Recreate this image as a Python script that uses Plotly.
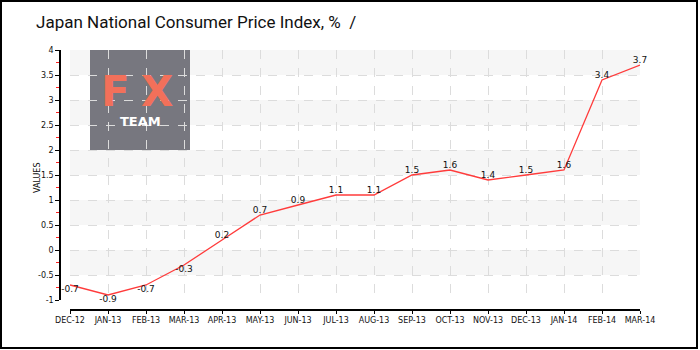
import plotly.graph_objects as go

# Japan national CPI, year-on-year %
months = ["DEC-12", "JAN-13", "FEB-13", "MAR-13", "APR-13", "MAY-13", "JUN-13", "JUL-13",
          "AUG-13", "SEP-13", "OCT-13", "NOV-13", "DEC-13", "JAN-14", "FEB-14", "MAR-14"]
cpi = [-0.7, -0.9, -0.7, -0.3, 0.2, 0.7, 0.9, 1.1, 1.1, 1.5, 1.6, 1.4, 1.5, 1.6, 3.4, 3.7]
y_ticks = [-1, -0.5, 0, 0.5, 1, 1.5, 2, 2.5, 3, 3.5, 4]
y_tick_text = ["-1", "-0.5", "0", "0.5", "1", "1.5", "2", "2.5", "3", "3.5", "4"]

W, H = 700, 350
# plot box in pixels
PX0, PX1, PY0, PY1 = 70, 640, 50, 300
XAX_Y, YAX_X = 310, 60


def fx(px):
    return px / W


def fy(py):
    return 1 - py / H


idx = list(range(len(months)))
positions = ["top center" if v >= 0 else "bottom center" for v in cpi]

fig = go.Figure()
fig.add_trace(go.Scatter(
    x=idx, y=cpi, mode="lines+text",
    line=dict(color="#ff3b3b", width=1.3),
    text=[f"{v:g}" for v in cpi], textposition=positions,
    textfont=dict(family="DejaVu Sans", size=9, color="#111111"),
    cliponaxis=False, hoverinfo="skip", showlegend=False,
))

shapes = []
# alternating horizontal bands
for lo in [-0.5, 0.5, 1.5, 2.5, 3.5]:
    shapes.append(dict(type="rect", xref="x", yref="y", x0=0, x1=len(months) - 1,
                       y0=lo, y1=lo + 0.5, fillcolor="#f6f6f6", line=dict(width=0),
                       layer="below"))
# logo plate, placed in the upper-left corner of the plot box
px_per_cat = (PX1 - PX0) / (len(months) - 1)
shapes.append(dict(type="rect", xref="x", yref="y",
                   x0=(90 - PX0) / px_per_cat, x1=(190 - PX0) / px_per_cat,
                   y0=2, y1=4,
                   fillcolor="#77777f", line=dict(width=0), layer="below"))
# outer frame
shapes.append(dict(type="rect", xref="paper", yref="paper",
                   x0=fx(1), x1=fx(697), y0=fy(348), y1=fy(1),
                   line=dict(color="#000000", width=2), fillcolor="rgba(0,0,0,0)"))

annotations = [
    dict(text="Japan National Consumer Price Index, %  /", xref="paper", yref="paper",
         x=fx(34), y=fy(22), xanchor="left", yanchor="middle", showarrow=False,
         font=dict(family="Roboto", size=17, color="#111111")),
    dict(text="F", xref="paper", yref="paper", x=fx(116), y=fy(91),
         xanchor="center", yanchor="middle", showarrow=False,
         font=dict(family="DejaVu Sans", size=42, color="#f2705a", weight="bold")),
    dict(text="X", xref="paper", yref="paper", x=fx(157), y=fy(91),
         xanchor="center", yanchor="middle", showarrow=False,
         font=dict(family="DejaVu Sans", size=42, color="#f2705a", weight="bold")),
    dict(text="<b>TEAM</b>", xref="paper", yref="paper", x=fx(140), y=fy(122),
         xanchor="center", yanchor="middle", showarrow=False,
         font=dict(family="DejaVu Sans", size=13, color="#ffffff")),
    dict(text="VALUES", xref="paper", yref="paper", x=fx(37), y=fy(178),
         xanchor="center", yanchor="middle", showarrow=False, textangle=-90,
         font=dict(family="DejaVu Sans", size=8, color="#111111")),
]

fig.update_layout(
    width=W, height=H, margin=dict(l=0, r=0, t=0, b=0, autoexpand=False),
    paper_bgcolor="#ffffff", plot_bgcolor="rgba(0,0,0,0)",
    shapes=shapes, annotations=annotations,
    xaxis=dict(
        domain=[fx(PX0), fx(PX1)], range=[0, len(months) - 1],
        anchor="free", position=fy(XAX_Y), automargin=False,
        tickmode="array", tickvals=idx, ticktext=months,
        showline=True, linecolor="#000000", linewidth=1.5,
        ticks="outside", ticklen=3, tickcolor="#000000",
        tickfont=dict(family="DejaVu Sans", size=8, color="#111111"),
        showgrid=True, gridcolor="#dcdcdc", griddash="dash", gridwidth=1,
        zeroline=False, fixedrange=True,
    ),
    yaxis=dict(
        domain=[fy(PY1), fy(PY0)], range=[-1, 4],
        anchor="free", position=fx(YAX_X), automargin=False,
        tickmode="array", tickvals=y_ticks, ticktext=y_tick_text,
        showline=True, linecolor="#000000", linewidth=1.5,
        ticks="outside", ticklen=4, tickcolor="#000000",
        minor=dict(dtick=0.25, ticks="outside", ticklen=3, tickcolor="#ff2020", showgrid=False),
        tickfont=dict(family="DejaVu Sans", size=8, color="#111111"),
        showgrid=True, gridcolor="#dcdcdc", griddash="dash", gridwidth=1,
        zeroline=False, fixedrange=True,
    ),
)

fig.write_html("out.html")
